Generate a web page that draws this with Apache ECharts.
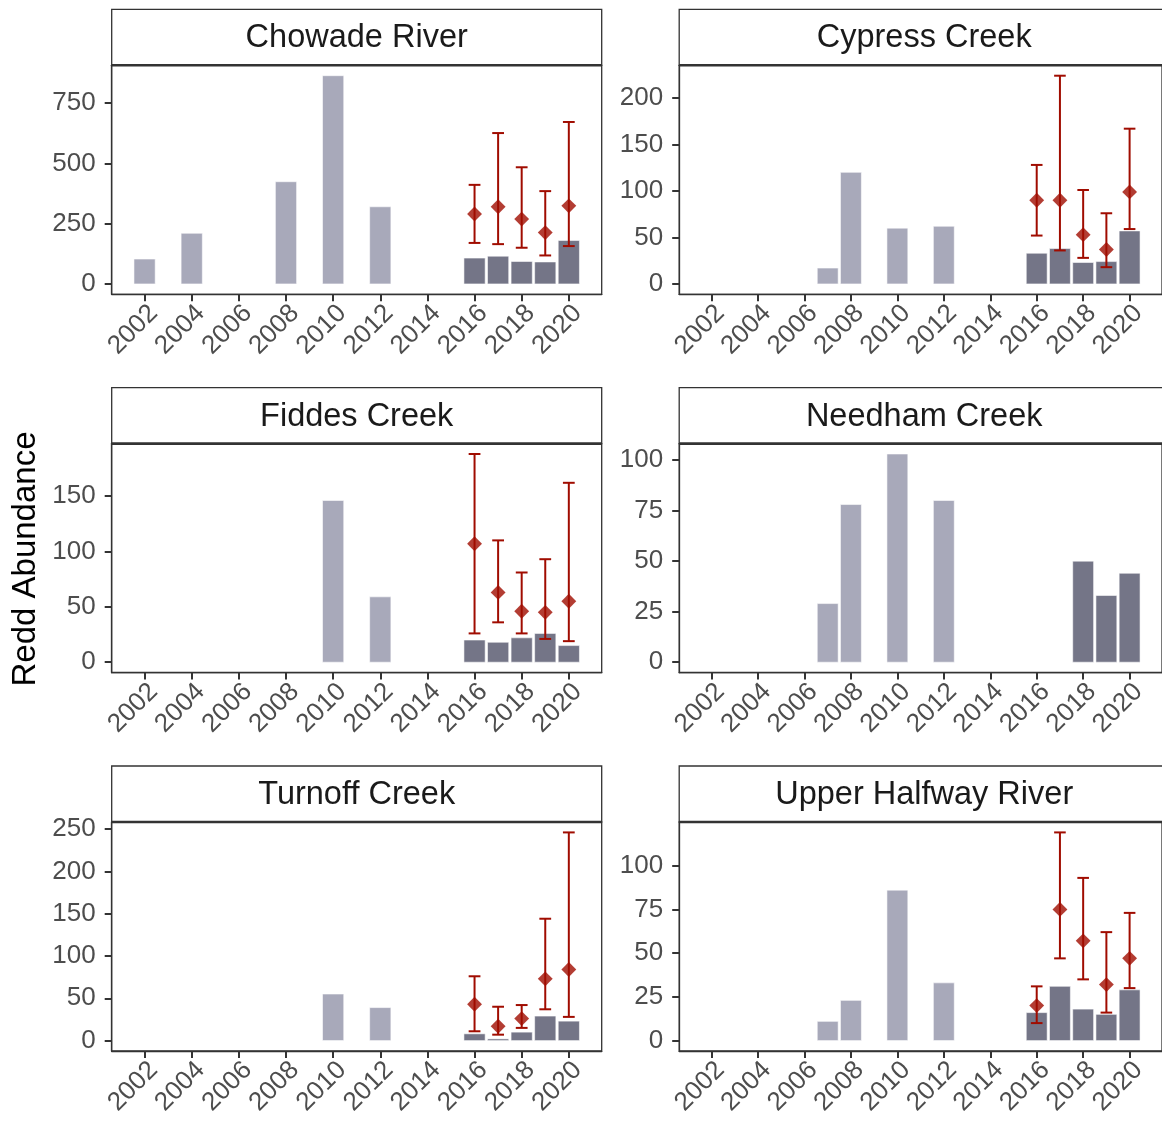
<!DOCTYPE html>
<html>
<head>
<meta charset="utf-8">
<script src="https://cdn.jsdelivr.net/npm/echarts@6/dist/echarts.min.js"></script>
<style>
  html, body { margin: 0; padding: 0; background: #fff; }
  #main { width: 1162px; height: 1124px; }
</style>
</head>
<body>
<div id="main"></div>
<script>
// redd counts per stream, estimates with intervals for 2016-2020
var estYears = [2016, 2017, 2018, 2019, 2020];
var xTicks = [2002, 2004, 2006, 2008, 2010, 2012, 2014, 2016, 2018, 2020];

var chowadeYears = [2002, 2004, 2008, 2010, 2012, 2016, 2017, 2018, 2019, 2020];
var chowadeCounts = [103, 210, 424, 864, 320, 107, 115, 93, 91, 180];
var chowadeEst = [290, 320, 269, 213, 324];
var chowadeLo = [170, 165, 150, 118, 157];
var chowadeHi = [411, 626, 484, 385, 672];
var chowadeTicks = [0, 250, 500, 750];

var cypressYears = [2007, 2008, 2010, 2012, 2016, 2017, 2018, 2019, 2020];
var cypressCounts = [17, 120, 60, 62, 33, 38, 23, 24, 57];
var cypressEst = [90, 90, 53, 37, 99];
var cypressLo = [52, 36, 28, 18, 59];
var cypressHi = [128, 224, 101, 76, 167];
var cypressTicks = [0, 50, 100, 150, 200];

var fiddesYears = [2010, 2012, 2016, 2017, 2018, 2019, 2020];
var fiddesCounts = [146, 59, 20, 18, 22, 26, 15];
var fiddesEst = [107, 63, 46, 45, 55];
var fiddesLo = [26, 36, 26, 21, 19];
var fiddesHi = [188, 110, 81, 93, 162];
var fiddesTicks = [0, 50, 100, 150];

var needhamYears = [2007, 2008, 2010, 2012, 2018, 2019, 2020];
var needhamCounts = [29, 78, 103, 80, 50, 33, 44];
var needhamTicks = [0, 25, 50, 75, 100];

var turnoffYears = [2010, 2012, 2016, 2017, 2018, 2019, 2020];
var turnoffCounts = [55, 39, 8, 2, 10, 29, 23];
var turnoffEst = [43, 17, 26, 73, 84];
var turnoffLo = [11, 7, 15, 37, 28];
var turnoffHi = [76, 40, 42, 144, 246];
var turnoffTicks = [0, 50, 100, 150, 200, 250];

var halfwayYears = [2007, 2008, 2010, 2012, 2016, 2017, 2018, 2019, 2020];
var halfwayCounts = [11, 23, 86, 33, 16, 31, 18, 15, 29];
var halfwayEst = [20, 75, 57, 32, 47];
var halfwayLo = [10, 47, 35, 16, 30];
var halfwayHi = [31, 119, 93, 62, 73];
var halfwayTicks = [0, 25, 50, 75, 100];

var panels = [
	{ name: 'Chowade River', years: chowadeYears, counts: chowadeCounts, est: chowadeEst, lo: chowadeLo, hi: chowadeHi, ticks: chowadeTicks },
	{ name: 'Cypress Creek', years: cypressYears, counts: cypressCounts, est: cypressEst, lo: cypressLo, hi: cypressHi, ticks: cypressTicks },
	{ name: 'Fiddes Creek', years: fiddesYears, counts: fiddesCounts, est: fiddesEst, lo: fiddesLo, hi: fiddesHi, ticks: fiddesTicks },
	{ name: 'Needham Creek', years: needhamYears, counts: needhamCounts, est: [], lo: [], hi: [], ticks: needhamTicks },
	{ name: 'Turnoff Creek', years: turnoffYears, counts: turnoffCounts, est: turnoffEst, lo: turnoffLo, hi: turnoffHi, ticks: turnoffTicks },
	{ name: 'Upper Halfway River', years: halfwayYears, counts: halfwayCounts, est: halfwayEst, lo: halfwayLo, hi: halfwayHi, ticks: halfwayTicks }
];

var FONT = "'Liberation Sans', Arial, sans-serif";
var lightBar = '#a8a9ba';
var darkBar = '#747587';
var red = '#a00c00';
var ink = '#333333';

var colLeft = [111.7, 679.2];
var rowTop = [9.3, 387.6, 766];
var panelW = 490, stripH = 56, panelH = 229;
// rotated labels hang from their top-right corner, nudge them to the right of the tick
var labelShift = 0.38;

var myChart = echarts.init(document.getElementById('main'));
var grids = [], xAxes = [], yAxes = [], series = [], graphics = [];

panels.forEach(function (p, i) {
	var left = colLeft[i % 2];
	var top = rowTop[Math.floor(i / 2)];
	var gTop = top + stripH;

	grids.push({ left: left, top: gTop, width: panelW, height: panelH, show: true,
		borderColor: ink, borderWidth: 1.3, backgroundColor: 'transparent' });

	// ggplot style 5% expansion around the data
	var maxVal = Math.max.apply(null, p.counts.concat(p.hi));
	xAxes.push({
		type: 'value', gridIndex: i, position: 'bottom', min: 2000.605, max: 2021.395, z: 5,
		splitLine: { show: false },
		axisLine: { show: true, onZero: false, lineStyle: { color: ink, width: 1.3 } },
		axisTick: { show: true, inside: false, length: 7, lineStyle: { color: ink, width: 2 }, customValues: xTicks },
		axisLabel: { customValues: xTicks.map(function (t) { return t + labelShift; }),
			rotate: 45, margin: 15, color: '#4d4d4d', fontSize: 26, fontFamily: FONT,
			formatter: function (v) { return String(Math.round(v - labelShift)); } }
	});
	yAxes.push({
		type: 'value', gridIndex: i, min: -0.05 * maxVal, max: 1.05 * maxVal,
		splitLine: { show: false },
		axisLine: { show: true, onZero: false, lineStyle: { color: ink, width: 1.3 } },
		axisTick: { show: true, length: 7, lineStyle: { color: ink, width: 2 }, customValues: p.ticks },
		axisLabel: { customValues: p.ticks, margin: 16, color: '#4d4d4d', fontSize: 26, fontFamily: FONT,
			formatter: function (v) { return String(v); } }
	});

	series.push({
		type: 'custom', xAxisIndex: i, yAxisIndex: i, clip: true,
		data: p.years.map(function (y, k) { return [y, p.counts[k]]; }),
		encode: { x: 0, y: 1 },
		renderItem: function (params, api) {
			var yr = api.value(0);
			var a = api.coord([yr - 0.45, api.value(1)]);
			var b = api.coord([yr + 0.45, 0]);
			return {
				type: 'rect',
				shape: { x: a[0], y: a[1], width: b[0] - a[0], height: b[1] - a[1] },
				style: { fill: yr >= 2016 ? darkBar : lightBar, stroke: 'rgba(255,255,255,0.55)', lineWidth: 1 }
			};
		}
	});

	if (p.est.length) {
		series.push({
			type: 'custom', xAxisIndex: i, yAxisIndex: i, z: 3,
			data: estYears.map(function (y, k) { return [y, p.lo[k], p.hi[k]]; }),
			encode: { x: 0, y: [1, 2] },
			renderItem: function (params, api) {
				var yr = api.value(0);
				var lo = api.coord([yr, api.value(1)]);
				var hi = api.coord([yr, api.value(2)]);
				var half = (api.coord([yr + 0.25, 0])[0] - lo[0]);
				var st = { stroke: red, lineWidth: 2 };
				return {
					type: 'group',
					children: [
						{ type: 'line', shape: { x1: lo[0], y1: lo[1], x2: hi[0], y2: hi[1] }, style: st },
						{ type: 'line', shape: { x1: lo[0] - half, y1: lo[1], x2: lo[0] + half, y2: lo[1] }, style: st },
						{ type: 'line', shape: { x1: hi[0] - half, y1: hi[1], x2: hi[0] + half, y2: hi[1] }, style: st }
					]
				};
			}
		});
		series.push({
			type: 'scatter', xAxisIndex: i, yAxisIndex: i, z: 4,
			symbol: 'rect', symbolRotate: 45, symbolSize: 10.5,
			itemStyle: { color: red },
			data: estYears.map(function (y, k) { return [y, p.est[k]]; })
		});
	}

	// facet strip
	graphics.push({
		type: 'rect', z: 10,
		shape: { x: left, y: top, width: panelW, height: stripH },
		style: { fill: '#fff', stroke: ink, lineWidth: 1.3 }
	});
	graphics.push({
		type: 'line', z: 11,
		shape: { x1: left, y1: gTop, x2: left + panelW, y2: gTop },
		style: { stroke: ink, lineWidth: 2.6 }
	});
	graphics.push({
		type: 'text', z: 12,
		x: left + panelW / 2, y: top + stripH / 2 + 1,
		style: { text: p.name, fill: '#1a1a1a', font: '32.5px ' + FONT, align: 'center', verticalAlign: 'middle' }
	});
});

graphics.push({
	type: 'text', z: 12, x: 26, y: 559, rotation: Math.PI / 2,
	style: { text: 'Redd Abundance', fill: '#000', font: '33px ' + FONT, align: 'center', verticalAlign: 'middle' }
});

var option = {
	animation: false,
	backgroundColor: '#fff',
	grid: grids,
	xAxis: xAxes,
	yAxis: yAxes,
	series: series,
	graphic: graphics
};
myChart.setOption(option);
</script>
</body>
</html>
